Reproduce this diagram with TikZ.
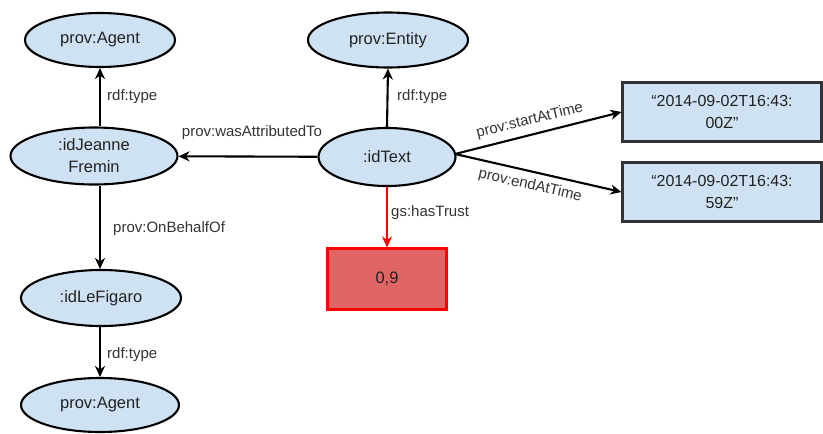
\documentclass[tikz,border=0pt]{standalone}
\usepackage{fontspec}
\setmainfont{Liberation Sans}
\usetikzlibrary{shapes.geometric,arrows.meta}
\definecolor{nodeblue}{HTML}{CFE2F3}
\definecolor{trustfill}{HTML}{E06666}
\definecolor{trustred}{HTML}{FF0000}
\definecolor{labelgray}{HTML}{333333}
\definecolor{textdark}{HTML}{222222}
\begin{document}
\begin{tikzpicture}[x=1pt,y=-1pt,
  res/.style={ellipse, draw=black, line width=2.1pt, fill=nodeblue, inner sep=0pt,
    text=textdark, font=\fontsize{16.5}{22}\selectfont, align=center},
  lit/.style={rectangle, draw=black!80, line width=2.1pt, fill=nodeblue, inner sep=0pt,
    text=textdark, font=\fontsize{16}{22}\selectfont, align=center,
    minimum width=199pt, minimum height=59pt},
  trustbox/.style={rectangle, draw=trustred, line width=2.1pt, fill=trustfill, inner sep=0pt,
    text=textdark, font=\fontsize{16.5}{22}\selectfont, minimum width=119pt, minimum height=61pt},
  edge/.style={line width=2.1pt, -{Stealth[length=11pt,width=10pt,inset=3.5pt]}},
  lbl/.style={text=labelgray, font=\fontsize{15}{17}\selectfont, inner sep=1pt}
]
\useasboundingbox (0,0) rectangle (823,434);
% nodes
\node[res, minimum width=150pt, minimum height=54pt] (agent1) at (100,40) {prov:Agent};
\node[res, minimum width=167pt, minimum height=57pt] (jeanne) at (94,156) {:idJeanne\\Fremin};
\node[res, minimum width=160pt, minimum height=56pt] (figaro) at (101,298) {:idLeFigaro};
\node[res, minimum width=158pt, minimum height=54pt] (agent2) at (100,405) {prov:Agent};
\node[res, minimum width=160pt, minimum height=55pt] (entity) at (388,40) {prov:Entity};
\node[res, minimum width=137pt, minimum height=58pt] (text) at (387,157) {:idText};
\node[trustbox] (trust) at (387,279) {0,9};
\node[lit] (start) at (722,112) {“2014-09-02T16:43:\\00Z"};
\node[lit] (end) at (722,192) {“2014-09-02T16:43:\\59Z"};
% edges
\draw[edge] (agent1 |- jeanne.north) -- (agent1.south);
\draw[edge] (text) -- (jeanne);
\draw[edge] (agent1 |- jeanne.south) -- (agent1 |- figaro.north);
\draw[edge] (agent1 |- figaro.south) -- (agent1 |- agent2.north);
\draw[edge] (text.north) -- (entity.south);
\draw[edge, draw=trustred, -{Stealth[length=11pt,width=10pt,inset=3.5pt,fill=trustred]}] (text.south) -- (trust.north);
\coordinate (tr) at (455,154);
\draw[edge] (tr) -- node[lbl, above=5pt, sloped, pos=0.47] {prov:startAtTime} (start.west);
\draw[edge] (tr) -- node[lbl, below=5pt, sloped, pos=0.47] {prov:endAtTime} (end.west);
% labels
\node[lbl, anchor=west] (l1) at (106,97) {rdf:type};
\node[lbl, anchor=west] (l2) at (396,97) {rdf:type};
\node[lbl] (l3) at (252,133) {prov:wasAttributedTo};
\node[lbl, anchor=west] (l4) at (390,213) {gs:hasTrust};
\node[lbl, anchor=west] (l5) at (112,229) {prov:OnBehalfOf};
\node[lbl, anchor=west] (l6) at (106,355) {rdf:type};
\end{tikzpicture}
\end{document}
